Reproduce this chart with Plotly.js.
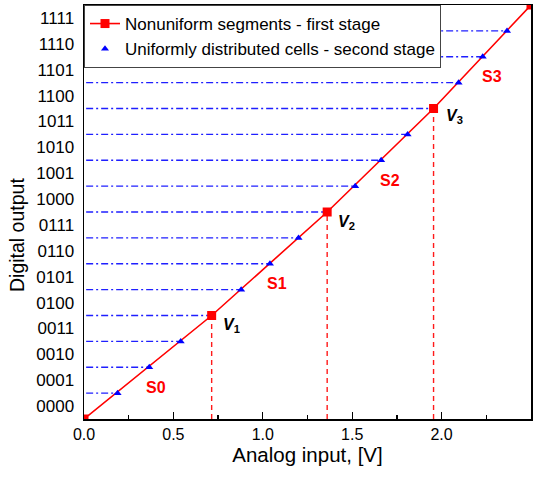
<!DOCTYPE html>
<html>
<head>
<meta charset="utf-8">
<script src="https://cdn.plot.ly/plotly-3.0.1.min.js"></script>
<style>html,body{margin:0;padding:0;background:#fff;}#chart{width:542px;height:477px;}</style>
</head>
<body>
<div id="chart"></div>
<script>
// Segment boundaries (first stage)
var segX = [0, 0.714, 1.36, 1.955, 2.5];
var segY = [0, 4, 8, 12, 16];
// Uniform cells (second stage)
var cellX = [0.188, 0.365, 0.541, 0.879, 1.04, 1.20, 1.517, 1.662, 1.81, 2.095, 2.23, 2.366];
var cellY = [1, 2, 3, 5, 6, 7, 9, 10, 11, 13, 14, 15];
// Y tick labels
var codeLabels = ['0000','0001','0010','0011','0100','0101','0110','0111','1000','1001','1010','1011','1100','1101','1110','1111'];
var xTicks = [0, 0.5, 1.0, 1.5, 2.0, 2.5];
var segNames = ['S0','S1','S2','S3'];
var segLabelX = [0.40, 1.08, 1.71, 2.28];
var segLabelY = [1.22, 5.25, 9.22, 13.25];
var vNames = ['1','2','3'];
var vLabelX = [0.825, 1.47, 2.07];
var vLabelY = [3.6, 7.6, 11.7];

var FONT = 'Arial, "Liberation Sans", sans-serif';

// Horizontal level lines: every level from the axis to its point on the transfer line
var levels = [];
for (var i = 0; i < cellY.length; i++) levels.push([cellX[i], cellY[i]]);
for (var j = 1; j < segY.length - 1; j++) levels.push([segX[j], segY[j]]);
levels.sort(function(a,b){return a[1]-b[1];});
var hx = [], hy = [];
levels.forEach(function(p){ hx.push(0.012, p[0], null); hy.push(p[1], p[1], null); });

var vx = [], vy = [];
for (var k = 1; k < segX.length - 1; k++) { vx.push(segX[k], segX[k], null); vy.push(0, segY[k], null); }

var traces = [
  {x: hx, y: hy, mode: 'lines', line: {color: '#1f1fff', width: 1.3, dash: '7px,3px,2px,3px'}, showlegend: false, hoverinfo: 'skip'},
  {x: vx, y: vy, mode: 'lines', line: {color: '#ff1a1a', width: 1.4, dash: '5px,4px'}, showlegend: false, hoverinfo: 'skip'},
  {x: segX, y: segY, mode: 'lines+markers', name: 'Nonuniform segments - first stage',
   line: {color: '#ff0000', width: 1.6}, marker: {symbol: 'square', size: 9, color: '#ff0000'}},
  {x: cellX, y: cellY, mode: 'markers', name: 'Uniformly distributed cells - second stage',
   marker: {symbol: 'triangle-up', size: 7, color: '#0000ff'}}
];

var annotations = [];
for (var s = 0; s < segNames.length; s++) {
  annotations.push({x: segLabelX[s], y: segLabelY[s], xref: 'x', yref: 'y', text: '<b>' + segNames[s] + '</b>',
    showarrow: false, font: {family: FONT, size: 16, color: '#ff0000'}});
}
for (var v = 0; v < vNames.length; v++) {
  annotations.push({x: vLabelX[v], y: vLabelY[v], xref: 'x', yref: 'y', text: '<b><i>V</i><sub>' + vNames[v] + '</sub></b>',
    showarrow: false, font: {family: FONT, size: 16, color: '#000'}});
}
annotations.push({x: (17 - 84) / 447, y: (419 - 235) / 414, xref: 'paper', yref: 'paper', xanchor: 'center', yanchor: 'middle',
  text: 'Digital output', textangle: -90, showarrow: false, font: {family: FONT, size: 19.5, color: '#000'}});

var layout = {
  width: 542, height: 477,
  margin: {l: 84, r: 11, t: 5, b: 58, pad: 0},
  paper_bgcolor: '#fff', plot_bgcolor: '#fff',
  font: {family: FONT, size: 16, color: '#000'},
  showlegend: true,
  legend: {x: 0, y: 1, xanchor: 'left', yanchor: 'top', bgcolor: '#fff', bordercolor: '#444', borderwidth: 1,
    font: {family: FONT, size: 17, color: '#000'}, tracegroupgap: 0, itemwidth: 30},
  xaxis: {range: [0, 2.5], tickvals: xTicks, ticktext: xTicks.map(function(t){return t.toFixed(1);}),
    ticks: 'inside', ticklen: 7, tickwidth: 1.3, tickcolor: '#000',
    minor: {tickvals: [0.25, 0.75, 1.25, 1.75, 2.25], ticks: 'inside', ticklen: 4, tickwidth: 1.3, tickcolor: '#000'},
    showline: true, linecolor: '#000', linewidth: 1.5, mirror: true, showgrid: false, zeroline: false,
    tickfont: {family: FONT, size: 16}, title: {text: 'Analog input, [V]', font: {family: FONT, size: 20.5}, standoff: 6}},
  yaxis: {range: [0, 16], tickvals: codeLabels.map(function(_, i){return i + 0.5;}), ticktext: codeLabels,
    ticks: '', showline: true, linecolor: '#000', linewidth: 1.5, mirror: true, showgrid: false, zeroline: false,
    tickfont: {family: FONT, size: 17}, ticklabelstandoff: 5},
  annotations: annotations
};

Plotly.newPlot('chart', traces, layout, {displayModeBar: false, staticPlot: true});
</script>
</body>
</html>
